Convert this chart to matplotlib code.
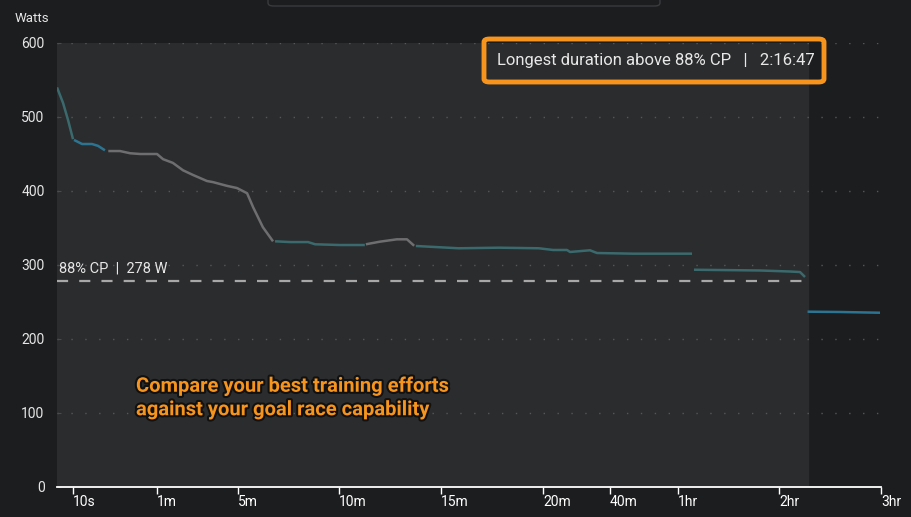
import numpy as np
import matplotlib.pyplot as plt
import matplotlib.patheffects as pe
from matplotlib.patches import FancyBboxPatch

plt.rcParams['font.family'] = ['Roboto', 'DejaVu Sans']

# axis knots: duration (s) and where it sits on the chart's stretched scale
knot_secs = [1, 10, 60, 300, 600, 900, 1200, 2400, 3600, 7200, 10800]
knot_pos = [57, 73, 157, 238, 339, 441, 543, 610, 678, 779, 881]
tick_secs = [10, 60, 300, 600, 900, 1200, 2400, 3600, 7200, 10800]
tick_labels = ["10s", "1m", "5m", "10m", "15m", "20m", "40m", "1hr", "2hr", "3hr"]

cp_pct = 88
cp_watts = 278
longest_secs = 8207  # 2:16:47

# best-effort curve, split by segment colour
seg_teal1_s = [1, 4.4, 7.2, 10]
seg_teal1_w = [540, 519, 496, 470]
seg_blue1_s = [10.6, 15.4, 21.3, 24.9, 29]
seg_blue1_w = [469, 463.5, 463.5, 461, 455]
seg_gray1_s = [31, 38, 44, 50, 60, 78, 107, 137, 167, 208, 226, 267, 297, 327, 345, 374, 404]
seg_gray1_w = [454, 454, 451, 450, 450, 443, 438, 428, 421.6, 413.5, 412, 407, 404, 397, 378, 351, 332]
seg_teal2_s = [410, 455, 508, 529, 603, 676]
seg_teal2_w = [332, 331, 331, 328, 327, 327]
seg_gray2_s = [679, 720, 770, 800, 821]
seg_gray2_w = [328, 331.5, 334.7, 334.7, 326]
seg_teal3_s = [826, 952, 1070, 1188, 1379, 1630, 1684, 2042, 2167, 2812, 4099]
seg_teal3_w = [325.7, 322.6, 323.4, 322.6, 320.3, 320.3, 317.6, 319.9, 316.2, 315.3, 315.3]
seg_teal4_s = [4170, 5097, 6523, 7588, 7941, 8118]
seg_teal4_w = [293.6, 293.2, 292.6, 291.2, 290.5, 283.8]
seg_blue2_s = [8207, 9353, 10765]
seg_blue2_w = [236.9, 236.5, 235.5]

BG = "#1c1d1f"
PANEL = "#2b2c2e"
TEAL = "#3a6a6d"
BLUE = "#2b7592"
GRAY = "#6e6e71"
ORANGE = "#f7941d"


def fwd(x):
    return np.interp(x, knot_secs, knot_pos)


def inv(p):
    return np.interp(p, knot_pos, knot_secs)


fig = plt.figure(figsize=(9.11, 5.17), dpi=100, facecolor=BG)
ax = fig.add_axes([57 / 911, 30 / 517, 824 / 911, 444 / 517])
ax.set_facecolor(BG)
ax.set_xscale('function', functions=(fwd, inv))
ax.set_xlim(1, 10800)
ax.set_ylim(0, 600)

ax.axvspan(1, longest_secs, color=PANEL, zorder=0)

for w in range(100, 601, 100):
    ax.plot([1, 10800], [w, w], color="#55575a", lw=1, ls=(0, (1, 9)), zorder=1)

ax.plot([1, longest_secs], [cp_watts, cp_watts], color="#a8a8a8", lw=1.6,
        ls=(0, (5, 5)), zorder=2)

segs = [
    (seg_teal1_s, seg_teal1_w, TEAL),
    (seg_blue1_s, seg_blue1_w, BLUE),
    (seg_gray1_s, seg_gray1_w, GRAY),
    (seg_teal2_s, seg_teal2_w, TEAL),
    (seg_gray2_s, seg_gray2_w, GRAY),
    (seg_teal3_s, seg_teal3_w, TEAL),
    (seg_teal4_s, seg_teal4_w, TEAL),
    (seg_blue2_s, seg_blue2_w, BLUE),
]
for xs, ws, c in segs:
    ax.plot(xs, ws, color=c, lw=1.8, solid_capstyle='butt', zorder=3)

for s in ['top', 'right', 'left']:
    ax.spines[s].set_visible(False)
ax.spines['bottom'].set_color('white')
ax.spines['bottom'].set_linewidth(1.3)

ax.set_xticks(tick_secs)
ax.set_xticklabels(tick_labels, ha='left')
ax.set_yticks(range(0, 601, 100))
ax.tick_params(axis='x', colors='white', length=5, width=1, labelsize=10, pad=1)
ax.tick_params(axis='y', colors='#4a4b4e', direction='in', length=3, labelsize=10,
               labelcolor='#e6e6e6', pad=9)
ax.minorticks_off()

fig.text(15 / 911, 1 - 18 / 517, "Watts", color='#e6e6e6', fontsize=9.5,
         va='center', ha='left')

ax.text(2.4, cp_watts + 8, f"{cp_pct}% CP  |  {cp_watts} W", color='#e6e6e6',
        fontsize=10.5, va='bottom', ha='left', zorder=4)

# annotation box for longest duration
box = FancyBboxPatch((484 / 911, 1 - 82 / 517), 340 / 911, 43 / 517,
                     boxstyle="round,pad=0,rounding_size=0.006",
                     transform=fig.transFigure, fill=False, edgecolor=ORANGE,
                     linewidth=3.5, zorder=5)
fig.add_artist(box)
fig.text(656 / 911, 1 - 60 / 517, "Longest duration above 88% CP   |   2:16:47",
         color='#e8e8e8', fontsize=12, ha='center', va='center')

# faint header box at top
hdr = FancyBboxPatch((268 / 911, 1 - 6 / 517), 392 / 911, 20 / 517,
                     boxstyle="round,pad=0,rounding_size=0.006",
                     transform=fig.transFigure, facecolor=BG, edgecolor="#3a3b3e",
                     linewidth=1)
fig.add_artist(hdr)

fig.text(136 / 911, 1 - 398 / 517,
         "Compare your best training efforts\nagainst your goal race capability",
         color=ORANGE, fontsize=14.5, fontweight='bold', ha='left', va='center',
         linespacing=1.3,
         path_effects=[pe.withStroke(linewidth=3, foreground='#111111')])

fig.savefig("out.png", dpi=100, facecolor=BG)
